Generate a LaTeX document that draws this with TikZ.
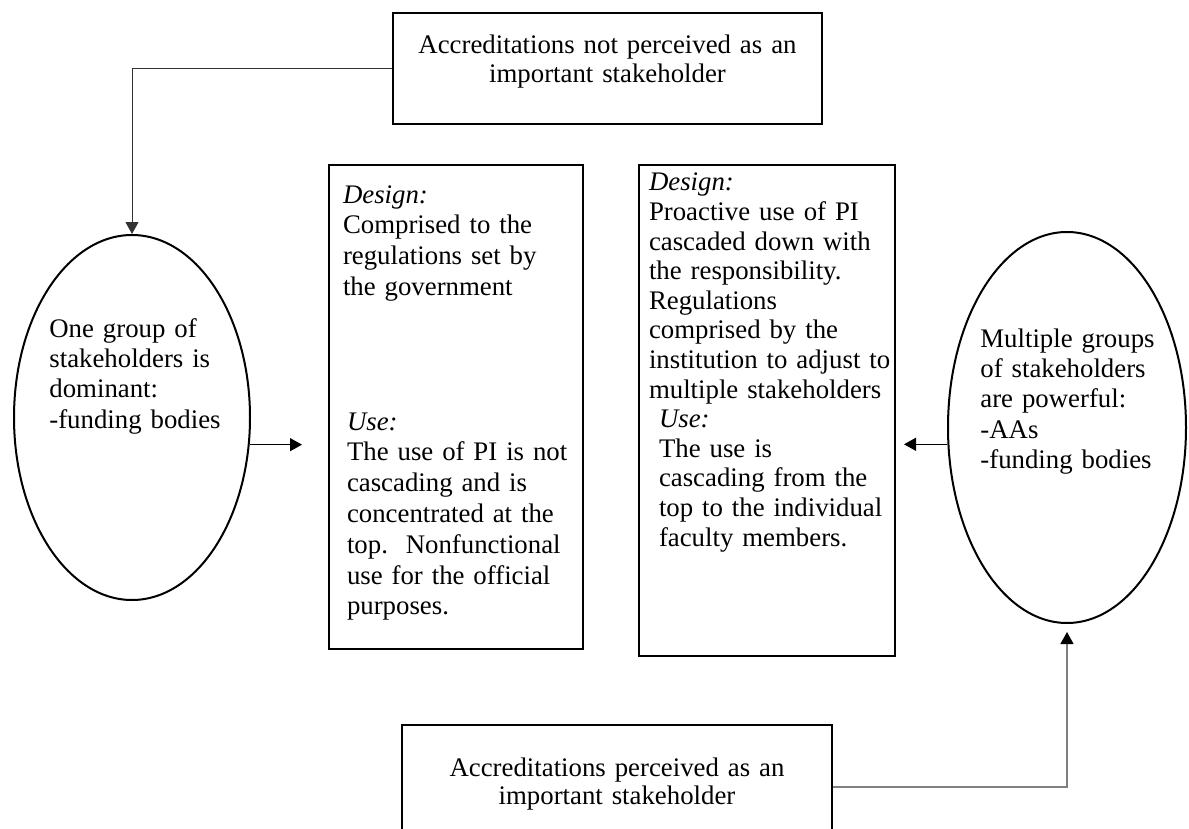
\documentclass[tikz,border=0pt]{standalone}
\usepackage{fontspec}
\setmainfont{Liberation Serif}
\usepackage{tikz}
\usetikzlibrary{positioning, arrows.meta, shapes.geometric}
\definecolor{linkdark}{RGB}{50, 50, 50}
\definecolor{linkgray}{RGB}{128, 128, 128}

\begin{document}
\begin{tikzpicture}[
    x=0.5pt, y=-0.5pt,
    every node/.style={font=\fontsize{13.4pt}{14.8pt}\selectfont},
    framebox/.style={draw, line width=1pt, inner ysep=3pt, align=left},
    stakeell/.style={draw, ellipse, line width=1pt, inner sep=0pt},
    elltext/.style={inner sep=0pt, align=left, text width=110pt, anchor=base west, font=\fontsize{13.4pt}{15.2pt}\selectfont},
    arrow/.style={-{Triangle[length=6pt, width=6.5pt]}, line width=0.6pt},
    grayarrow/.style={-{Triangle[length=6pt, width=6.5pt, color=black]}, line width=0.6pt, linkgray},
  ]
  \useasboundingbox (0,0) rectangle (1189,829);
  \clip (0,0) rectangle (1189,829);
  % accreditation boxes
  \node[framebox, align=center, anchor=north, text width=200.5pt, inner xsep=7pt, text height=17.5pt, text depth=32pt,
    font=\fontsize{13.4pt}{14.2pt}\selectfont]
    (notPerceived) at (607.5,12) {Accreditations not perceived as an\\important stakeholder};
  \node[framebox, align=center, anchor=north, text width=201pt, inner xsep=7pt, text height=22.5pt, text depth=33.5pt,
    font=\fontsize{13.4pt}{14.2pt}\selectfont]
    (perceived) at (617,724) {Accreditations perceived as an\\important stakeholder};
  % stakeholder ellipses
  \node[stakeell, minimum width=118pt, minimum height=182.5pt] (oneGroup) at (132,417.5) {};
  \node[elltext] (oneGroupText) at (49,337) {One group of\\stakeholders is\\dominant:\\-funding bodies};
  \node[stakeell, minimum width=119pt, minimum height=195.5pt] (multiGroups) at (1067,427.5) {};
  \node[elltext] (multiGroupsText) at (980,347) {Multiple groups\\of stakeholders\\are powerful:\\-AAs\\-funding bodies};
  % design / use boxes
  \node[framebox, anchor=north west, text width=113pt, inner xsep=7pt, text height=16pt, text depth=220pt,
    font=\fontsize{13.4pt}{15.4pt}\selectfont]
    (govDesign) at (328,164) {\textit{Design:}\\Comprised to the\\regulations set by\\the government\\[52pt]
    \hspace*{2pt}\textit{Use:}\\\hspace*{2pt}\mbox{The use of PI is not}\\\hspace*{2pt}cascading and is\\\hspace*{2pt}\mbox{concentrated at the}\\
    \hspace*{2pt}\mbox{top.\ \ Nonfunctional}\\\hspace*{2pt}\mbox{use for the official}\\\hspace*{2pt}purposes.};
  \node[framebox, anchor=north west, text width=118pt, inner xsep=5pt, text height=10pt, text depth=229.5pt]
    (instDesign) at (638,164) {\textit{Design:}\\Proactive use of PI\\\mbox{cascaded down with}\\the responsibility.\\Regulations\\
    comprised by the\\\mbox{institution to adjust to}\\\mbox{multiple stakeholders}\\
    \hspace*{5pt}\textit{Use:}\\\hspace*{5pt}The use is\\\hspace*{5pt}cascading from the\\\hspace*{5pt}\mbox{top to the individual}\\\hspace*{5pt}faculty members.};
  % Arrows
  \draw[arrow, linkdark, line width=0.5pt] (notPerceived.west) -| (oneGroup.north);
  \draw[arrow, shorten >=13pt] (oneGroup.-13.7) -- (oneGroup.-13.7 -| govDesign.west);
  \draw[arrow, shorten >=4pt] (multiGroups.188.9) -- (multiGroups.188.9 -| instDesign.east);
  \draw[grayarrow, shorten >=4pt] (perceived.east) -| (multiGroups.south);
\end{tikzpicture}
\end{document}
